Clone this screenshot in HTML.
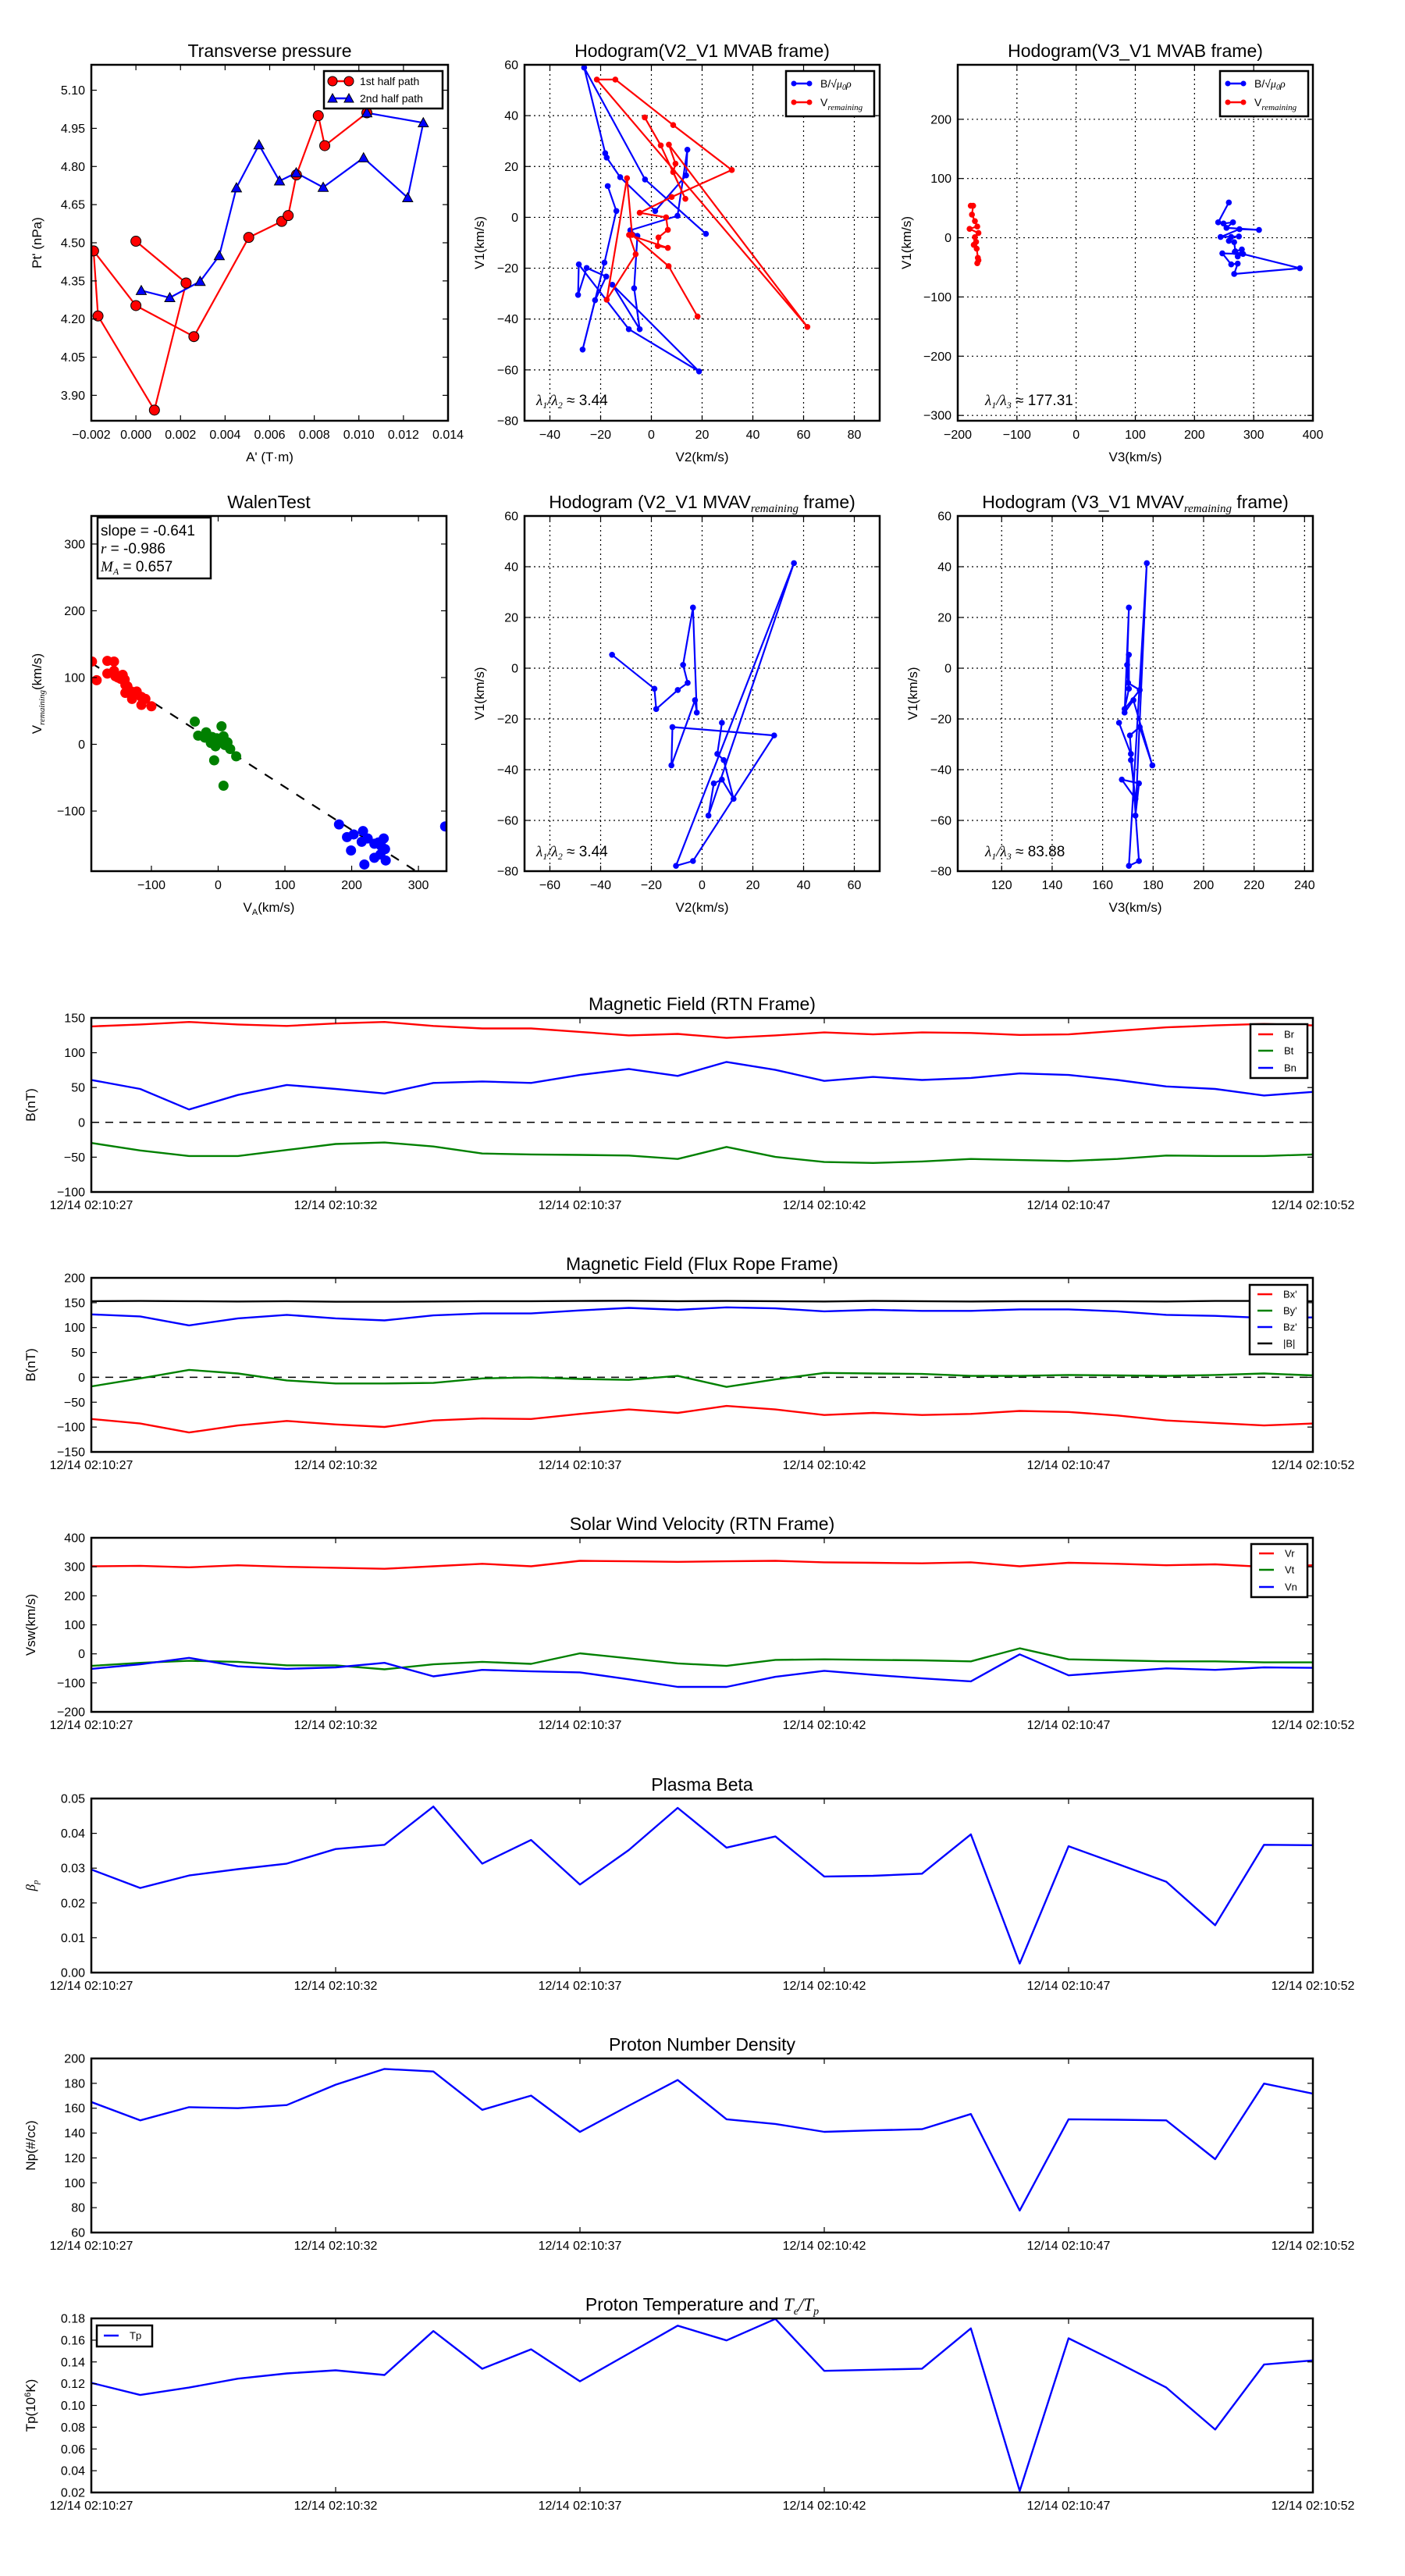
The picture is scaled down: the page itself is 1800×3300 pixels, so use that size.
<!DOCTYPE html>
<html><head><meta charset="utf-8"><title>Flux rope analysis</title>
<style>
html,body{margin:0;padding:0;background:#fff;}
svg{display:block;font-family:"Liberation Sans","DejaVu Sans",sans-serif;}
</style></head>
<body>
<svg id="chart" xmlns="http://www.w3.org/2000/svg" width="1800" height="3300" viewBox="0 0 1800 3300"></svg>
<script>
// ---------- Data ----------
// Transverse pressure
const tpRedA = [0.000,0.00225,0.00083,-0.0017,-0.0019,0.000,0.0026,0.00506,0.00654,0.00683,0.0072,0.00818,0.00847,0.01036];
const tpRedP = [4.506,4.342,3.842,4.212,4.468,4.253,4.131,4.521,4.584,4.607,4.767,5.000,4.882,5.011];
const tpBlueA = [0.01036,0.01289,0.01219,0.01021,0.0084,0.00719,0.00644,0.00552,0.00451,0.00374,0.00288,0.00152,0.00024];
const tpBlueP = [5.011,4.972,4.677,4.834,4.718,4.775,4.743,4.885,4.716,4.449,4.348,4.284,4.312];
// Hodogram V2_V1 MVAB
const h1BlueV2 = [21.5,-2.5,-26.5,-18.2,-17.6,-12.3,1.5,13.7,14.2,10.3,-8.3,-5.5,-6.8,-4.6,-15.4,18.8,-8.9,-28.6,-28.9,-25.5,-17.8,-22.2,-27.1,-18.5,-13.8,-17.2];
const h1BlueV1 = [-6.5,14.9,58.9,25.2,23.5,15.8,2.5,16.5,26.6,0.6,-5.1,-7.3,-27.9,-44.0,-26.5,-60.6,-44.0,-18.5,-30.5,-19.9,-23.3,-32.6,-52.0,-17.8,2.5,12.3];
const h1RedV2 = [18.2,6.8,-7.6,-9.6,-17.6,-6.2,-8.8,6.5,2.5,2.8,6.5,5.8,-4.6,8.0,31.7,8.6,-14.2,-21.5,61.5,6.9,9.5,8.6,13.4,3.7,-2.6];
const h1RedV1 = [-39.0,-19.2,-6.9,15.4,-32.4,-14.5,-6.9,-12.0,-11.3,-7.9,-4.9,0,1.8,8.0,18.6,36.3,54.2,54.2,-43.1,28.6,21.1,17.8,7.3,28.3,39.3];
// Hodogram V3_V1 MVAB
const h2BlueV3 = [258,240,249,265,254,309,276,244,275,262,258,267,269,280,273,282,247,262,273,267,378,268];
const h2BlueV1 = [59.5,26,24,26,16.7,13.2,14.5,1.3,2.2,1.3,-5.3,-7.5,-22.9,-19.8,-31.7,-27.3,-26.4,-45,-43.6,-61.2,-51.5,-24];
const h2RedV3 = [-178,-174,-176,-171,-167,-180,-165,-171,-173,-169,-168,-166,-165,-167];
const h2RedV1 = [54,54,39,28,19,15,8,1,-12,-7,-18.5,-34,-38,-43];
// Walen test
const walenRedX = [-189,-182,-166,-156,-166,-156,-154,-143,-140,-139,-136,-139,-130,-122,-129,-115,-109,-115,-100,-146,-150];
const walenRedY = [124,96,125,124,106,110,102,104,97,89,87,77,79,79,68,71,68,59,57,98,100];
const walenGreenX = [-35,-30,-18,-20,-9,-11,-4,5,8,14,18,27,-6,8,2,10,-2];
const walenGreenY = [34,13,18,10,11,2,-3,27,12,3,-7,-18,-24,-62,5,-1,9];
const walenBlueX = [181,193,203,217,215,224,199,234,248,244,250,234,243,219,251,340,240];
const walenBlueY = [-120,-139,-135,-130,-146,-141,-159,-149,-141,-152,-157,-170,-165,-180,-174,-123,-147];
const walenSlope = -0.641;
// Hodograms MVAV (time ordered)
const mvavV2 = [-35.5,-18.8,-18.1,-9.6,-5.7,-7.5,-3.6,-2.1,-2.8,-12.1,-11.7,28.4,-3.6,-10.3,36.2,2.5,4.6,7.8,12.4,8.5,6.0,7.8];
const mvavV1 = [5.3,-8.1,-16.1,-8.6,-5.8,1.3,23.9,-17.5,-12.6,-38.3,-23.2,-26.5,-76,-77.9,41.4,-58.1,-45.4,-43.9,-51.5,-36.2,-33.8,-21.5];
const mvavV3 = [170.4,170.4,168.7,174.7,170.1,169.7,170.4,168.7,172.2,179.7,174.7,170.8,174.4,170.4,177.5,173,174.4,167.6,173,171.2,171.2,166.5];
// Time series (seconds after 02:10:27)
const timeTickLabels = ["12/14 02:10:27","12/14 02:10:32","12/14 02:10:37","12/14 02:10:42","12/14 02:10:47","12/14 02:10:52"];
const Br = [137.8,140.6,144.2,140.6,138.5,142,144.2,138.5,134.9,134.9,129.9,124.9,127,121.3,124.9,129.2,126.3,129.2,128.4,125.6,126.3,131.4,136.4,139.2,141.4,139.2];
const Bt = [-29.6,-40.4,-48.3,-48.3,-39.7,-31,-28.9,-34.6,-44.7,-46.1,-46.8,-47.6,-52.6,-35.3,-49.7,-56.9,-58.3,-56.2,-52.6,-54.1,-55.5,-52.6,-47.6,-48.3,-48.3,-46.1];
const Bn = [60.9,48,18.5,39.4,53.7,48,41.5,56.6,58.8,56.6,68.1,76.7,66.7,86.8,75.3,59.5,65.2,60.9,63.8,70.3,68.1,60.9,51.6,48,38.6,43.7];
const Bx = [-83.7,-92.8,-110.9,-96.8,-87.7,-94.8,-99.8,-86.7,-82.7,-83.7,-73.6,-64.6,-71.6,-57.5,-64.6,-75.7,-71.6,-75.7,-73.6,-67.6,-69.6,-76.7,-86.7,-91.8,-96.8,-92.8];
const By = [-18.3,-2.2,14.9,7.8,-6.2,-12.3,-12.3,-11.3,-2.2,-0.2,-3.2,-5.2,2.8,-19.3,-4.2,8.9,7.8,6.8,2.8,2.8,4.8,3.8,2.8,4.8,7.8,3.8];
const Bz = [126.6,122.5,104.4,118.5,125.6,118.5,114.5,124.5,128.5,128.5,134.6,139.6,135.6,140.6,138.6,132.6,135.6,133.6,133.6,136.6,136.6,132.6,125.6,123.5,119.5,120.5];
const Bmag = [153,153.5,153,152.5,153,152,152,152.5,153,153,153.5,154,153,153.5,153,152.5,153.5,153,152.5,153,153,153,152.5,153.5,153.5,153];
const Vr = [301.7,303.4,298.3,305.2,300,296.6,293.1,301.7,310.3,301.7,320.7,319,317.2,319,320.7,315.5,313.8,312.1,315.5,301.7,313.8,310.3,305.2,308.6,300,305.2];
const Vt = [-41.4,-31,-24.1,-27.6,-39.7,-39.7,-53.4,-36.2,-27.6,-34.5,1.7,-15.5,-32.8,-41.4,-20.7,-19,-20.7,-22.4,-25.9,18.9,-19,-22.4,-25.9,-25.9,-29.3,-29.3];
const Vn = [-51.7,-36.2,-13.8,-43.1,-51.7,-46.6,-31,-77.6,-55.2,-60.3,-63.8,-87.9,-113.8,-113.8,-79.3,-58.6,-72.4,-84.5,-94.8,-1.7,-74.1,-62.1,-50,-55.2,-46.6,-48.3];
const betaP = [.0296,.0243,.0279,.0297,.0313,.0355,.0367,.0477,.0313,.0381,.0253,.0352,.0473,.0359,.0391,.0276,.0278,.0284,.0397,.0026,.0363,.0312,.0261,.0136,.0367,.0366];
const Np = [165,150.2,160.8,160,162.5,178.9,191.6,189.5,158.7,170.1,140.9,162,182.7,151.1,147.3,141,142.2,143.1,155.3,77.7,151.1,150.7,150.2,119,179.8,171.7];
const Tp = [.1207,.1096,.1164,.1246,.1294,.1323,.1280,.1684,.1337,.1516,.1222,.1477,.1733,.1598,.1795,.1318,.1328,.1338,.1708,.0214,.1617,.1395,.1164,.0778,.1376,.1414];

// ---------- Helpers ----------
const NS = "http://www.w3.org/2000/svg";
const svg = document.getElementById('chart');
let clipId = 0;
function mk(tag, attrs, parent) {
  const e = document.createElementNS(NS, tag);
  for (const k in attrs) e.setAttribute(k, attrs[k]);
  (parent || svg).appendChild(e);
  return e;
}
function lin(d0, d1, r0, r1) { return v => r0 + (v - d0) / (d1 - d0) * (r1 - r0); }
function fmt(v, dec) { const s = Math.abs(v).toFixed(dec); return (v < -1e-12 ? "\u2212" : "") + s; }
function range(a, b, s) { const r = []; for (let v = a; v <= b + s * 1e-6; v += s) r.push(+v.toFixed(6)); return r; }

function axes(name, box, xd, yd, xticks, yticks, xlab, ylab, opts) {
  opts = opts || {};
  const g = mk('g', {});
  
  
  const sx = lin(xd[0], xd[1], box.x0, box.x1);
  const sy = lin(yd[0], yd[1], box.y1, box.y0);
  const id = 'clip' + (clipId++);
  const cp = mk('clipPath', { id: id }, g);
  mk('rect', { x: box.x0, y: box.y0, width: box.x1 - box.x0, height: box.y1 - box.y0 }, cp);
  if (opts.grid) {
    xticks.forEach(t => { const x = sx(t); if (x > box.x0 + 1 && x < box.x1 - 1) {
      const l = mk('line', { x1: x, y1: box.y0, x2: x, y2: box.y1, stroke: '#000', 'stroke-width': 1.2, 'stroke-dasharray': '2,4' }, g);
      
       } });
    yticks.forEach(t => { const y = sy(t); if (y > box.y0 + 1 && y < box.y1 - 1) {
      const l = mk('line', { x1: box.x0, y1: y, x2: box.x1, y2: y, stroke: '#000', 'stroke-width': 1.2, 'stroke-dasharray': '2,4' }, g);
      
       } });
  }
  const plot = mk('g', { 'clip-path': 'url(#' + id + ')' }, g);
  
  
  const xtl = opts.xtl || (t => fmt(t, opts.xdec || 0));
  const ytl = opts.ytl || (t => fmt(t, opts.ydec || 0));
  xticks.forEach((t, i) => {
    const x = sx(t);
    mk('line', { x1: x, y1: box.y1, x2: x, y2: box.y1 - 7, stroke: '#000', 'stroke-width': 1.2 }, g);
    mk('line', { x1: x, y1: box.y0, x2: x, y2: box.y0 + 7, stroke: '#000', 'stroke-width': 1.2 }, g);
    const tx = mk('text', { x: x, y: box.y1 + (opts.xlabOff || 23), 'text-anchor': 'middle', 'font-size': opts.tickFs || 16 }, g);
    tx.textContent = xtl(t, i);
    
    
  });
  yticks.forEach(t => {
    const y = sy(t);
    mk('line', { x1: box.x0, y1: y, x2: box.x0 + 7, y2: y, stroke: '#000', 'stroke-width': 1.2 }, g);
    mk('line', { x1: box.x1, y1: y, x2: box.x1 - 7, y2: y, stroke: '#000', 'stroke-width': 1.2 }, g);
    const ty = mk('text', { x: box.x0 - 8, y: y + 5.5, 'text-anchor': 'end', 'font-size': opts.tickFs || 16 }, g);
    ty.textContent = ytl(t);
    
    
  });
  const fr = mk('rect', { x: box.x0, y: box.y0, width: box.x1 - box.x0, height: box.y1 - box.y0, fill: 'none', stroke: '#000', 'stroke-width': 2.5 }, g);
  
  
  if (xlab) {
    const xl = mk('text', { x: (box.x0 + box.x1) / 2, y: box.y1 + 52, 'text-anchor': 'middle', 'font-size': 17 }, g);
    xl.innerHTML = xlab;
    
    
  }
  if (ylab) {
    const yx = box.x0 - (opts.ylabDist || 64), yy = (box.y0 + box.y1) / 2;
    const yl = mk('text', { x: yx, y: yy, 'text-anchor': 'middle', 'font-size': 17, transform: 'rotate(-90 ' + yx + ' ' + yy + ')' }, g);
    yl.innerHTML = ylab;
    
    
  }
  if (opts.title) {
    const tt = mk('text', { x: (box.x0 + box.x1) / 2, y: box.y0 - 10, 'text-anchor': 'middle', 'font-size': 23 }, g);
    tt.innerHTML = opts.title;
    
    
  }
  return { g, plot, sx, sy, box };
}
function polyline(ax, xs, ys, color, w, name) {
  const pts = xs.map((x, i) => ax.sx(x).toFixed(1) + ',' + ax.sy(ys[i]).toFixed(1)).join(' ');
  const p = mk('polyline', { points: pts, fill: 'none', stroke: color, 'stroke-width': w || 2.4, 'stroke-linejoin': 'round' }, ax.plot);
  
  
  return p;
}
function dots(ax, xs, ys, color, r, name, edge) {
  xs.forEach((x, i) => {
    const c = mk('circle', { cx: ax.sx(x), cy: ax.sy(ys[i]), r: r, fill: color, stroke: edge || 'none', 'stroke-width': edge ? 1 : 0 }, ax.plot);
    
    
  });
}
function tris(ax, xs, ys, color, s, name) {
  xs.forEach((x, i) => {
    const cx = ax.sx(x), cy = ax.sy(ys[i]);
    const t = mk('polygon', { points: `${cx},${cy - s} ${cx - s},${cy + s * 0.8} ${cx + s},${cy + s * 0.8}`, fill: color, stroke: '#000', 'stroke-width': 1 }, ax.plot);
    
    
  });
}
function legendBox(x, y, w, h, name) {
  const g = mk('g', {});
  
  
  mk('rect', { x: x, y: y, width: w, height: h, fill: '#fff', stroke: '#000', 'stroke-width': 2.5 }, g);
  return g;
}
function legendLine(g, x, y, color, label, fs, len, marker) {
  const e = mk('g', {}, g);
  
  
  mk('line', { x1: x, y1: y, x2: x + len, y2: y, stroke: color, 'stroke-width': 2.4 }, e);
  if (marker === 'dot') { mk('circle', { cx: x, cy: y, r: 3.5, fill: color }, e); mk('circle', { cx: x + len, cy: y, r: 3.5, fill: color }, e); }
  if (marker === 'bigdot') { [x, x + len].forEach(cx => mk('circle', { cx: cx, cy: y, r: 6, fill: color, stroke: '#000', 'stroke-width': 1 }, e)); }
  if (marker === 'tri') { [x, x + len].forEach(cx => mk('polygon', { points: `${cx},${y - 6} ${cx - 6},${y + 5} ${cx + 6},${y + 5}`, fill: color, stroke: '#000', 'stroke-width': 1 }, e)); }
  const t = mk('text', { x: x + len + 14, y: y + fs * 0.36, 'font-size': fs }, e);
  t.innerHTML = label;
}
function note(x, y, html, fs, name) {
  const t = mk('text', { x: x, y: y, 'font-size': fs }, svg);
  t.innerHTML = html;
  
  
}

// ---------- Row 1 ----------
const R1 = { y0: 83, y1: 539 };
const R2 = { y0: 661, y1: 1116 };
const ax1 = axes('transverse-pressure-chart', { x0: 117, x1: 574, y0: R1.y0, y1: R1.y1 }, [-0.002, 0.014], [3.80, 5.20],
  range(-0.002, 0.014, 0.002), range(3.90, 5.10, 0.15), "A' (T\u00b7m)", "Pt' (nPa)",
  { xdec: 3, ydec: 2, title: 'Transverse pressure', ylabDist: 64 });
polyline(ax1, tpRedA, tpRedP, '#ff0000', 2.2, 'first-half-path-line');
polyline(ax1, tpBlueA, tpBlueP, '#0000ff', 2.2, 'second-half-path-line');
dots(ax1, tpRedA, tpRedP, '#ff0000', 6.5, 'first-half-point', '#000');
tris(ax1, tpBlueA, tpBlueP, '#0000ff', 6.5, 'second-half-point');
{ const lg = legendBox(415, 91, 152, 48, 'transverse-pressure-legend');
  legendLine(lg, 426, 104, '#ff0000', '1st half path', 14, 21, 'bigdot');
  legendLine(lg, 426, 126, '#0000ff', '2nd half path', 14, 21, 'tri'); }

const bLabel = 'B/\u221a<tspan font-style="italic" font-family="Liberation Serif">\u03bc<tspan font-size="10" dy="3">0</tspan><tspan dy="-3">\u03c1</tspan></tspan>';
const vRemLabel = 'V<tspan font-style="italic" font-family="Liberation Serif" font-size="11" dy="5">remaining</tspan>';

const ax2 = axes('hodogram-v2-v1-mvab', { x0: 672, x1: 1127, y0: R1.y0, y1: R1.y1 }, [-50, 90], [-80, 60],
  range(-40, 80, 20), range(-80, 60, 20), 'V2(km/s)', 'V1(km/s)', { grid: true, title: 'Hodogram(V2_V1 MVAB frame)', ylabDist: 52 });
polyline(ax2, h1BlueV2, h1BlueV1, '#0000ff', 2.2, 'b-alfven-hodogram-line');
dots(ax2, h1BlueV2, h1BlueV1, '#0000ff', 3.8, 'b-alfven-point');
polyline(ax2, h1RedV2, h1RedV1, '#ff0000', 2.2, 'v-remaining-hodogram-line');
dots(ax2, h1RedV2, h1RedV1, '#ff0000', 3.8, 'v-remaining-point');
{ const lg = legendBox(1007, 91, 113, 58, 'hodogram-legend');
  legendLine(lg, 1017, 107, '#0000ff', bLabel, 14, 20, 'dot');
  legendLine(lg, 1017, 131, '#ff0000', vRemLabel, 14, 20, 'dot'); }
note(687, 519, '<tspan font-style="italic" font-family="Liberation Serif">\u03bb<tspan font-size="12" dy="4">1</tspan><tspan dy="-4">/\u03bb</tspan><tspan font-size="12" dy="4">2</tspan></tspan><tspan dy="-4"> \u2248 3.44</tspan>', 19, 'eigenvalue-ratio-note');

const ax3 = axes('hodogram-v3-v1-mvab', { x0: 1227, x1: 1682, y0: R1.y0, y1: R1.y1 }, [-200, 400], [-309, 292],
  range(-200, 400, 100), range(-300, 200, 100), 'V3(km/s)', 'V1(km/s)', { grid: true, title: 'Hodogram(V3_V1 MVAB frame)', ylabDist: 60 });
polyline(ax3, h2BlueV3, h2BlueV1, '#0000ff', 2.2, 'b-alfven-hodogram-line');
dots(ax3, h2BlueV3, h2BlueV1, '#0000ff', 3.8, 'b-alfven-point');
polyline(ax3, h2RedV3, h2RedV1, '#ff0000', 2.2, 'v-remaining-hodogram-line');
dots(ax3, h2RedV3, h2RedV1, '#ff0000', 3.8, 'v-remaining-point');
{ const lg = legendBox(1563, 91, 113, 58, 'hodogram-legend');
  legendLine(lg, 1573, 107, '#0000ff', bLabel, 14, 20, 'dot');
  legendLine(lg, 1573, 131, '#ff0000', vRemLabel, 14, 20, 'dot'); }
note(1262, 519, '<tspan font-style="italic" font-family="Liberation Serif">\u03bb<tspan font-size="12" dy="4">1</tspan><tspan dy="-4">/\u03bb</tspan><tspan font-size="12" dy="4">3</tspan></tspan><tspan dy="-4"> \u2248 177.31</tspan>', 19, 'eigenvalue-ratio-note');

// ---------- Row 2 ----------
const ax4 = axes('walen-test-chart', { x0: 117, x1: 572, y0: R2.y0, y1: R2.y1 }, [-190, 342], [-190, 342],
  range(-100, 300, 100), range(-100, 300, 100),
  'V<tspan font-size="11" dy="4">A</tspan><tspan dy="-4">(km/s)</tspan>',
  'V<tspan font-style="italic" font-family="Liberation Serif" font-size="11" dy="4">remaining</tspan><tspan dy="-4">(km/s)</tspan>',
  { title: 'WalenTest', ylabDist: 64 });
{ const xs = [-190, 342]; const ys = xs.map(x => walenSlope * x);
  const l = polyline(ax4, xs, ys, '#000', 2.2, 'walen-fit-line'); l.setAttribute('stroke-dasharray', '12,12'); }
dots(ax4, walenRedX, walenRedY, '#ff0000', 6.5, 'walen-point-red');
dots(ax4, walenGreenX, walenGreenY, '#008000', 6.5, 'walen-point-green');
dots(ax4, walenBlueX, walenBlueY, '#0000ff', 6.5, 'walen-point-blue');
{ const lg = legendBox(125, 663, 145, 78, 'walen-stats-box');
  const t1 = mk('text', { x: 129, y: 686, 'font-size': 19 }, lg); t1.textContent = 'slope = -0.641';
  const t2 = mk('text', { x: 129, y: 709, 'font-size': 19 }, lg); t2.innerHTML = '<tspan font-style="italic" font-family="Liberation Serif">r</tspan> = -0.986';
  const t3 = mk('text', { x: 129, y: 732, 'font-size': 19 }, lg); t3.innerHTML = '<tspan font-style="italic" font-family="Liberation Serif">M<tspan font-size="12" dy="4">A</tspan></tspan><tspan dy="-4"> = 0.657</tspan>'; }

const remTitle = t => 'Hodogram (' + t + ' MVAV<tspan font-style="italic" font-family="Liberation Serif" font-size="15" dy="5">remaining</tspan><tspan dy="-5"> frame)</tspan>';
const ax5 = axes('hodogram-v2-v1-mvav', { x0: 672, x1: 1127, y0: R2.y0, y1: R2.y1 }, [-70, 70], [-80, 60],
  range(-60, 60, 20), range(-80, 60, 20), 'V2(km/s)', 'V1(km/s)', { grid: true, title: remTitle('V2_V1'), ylabDist: 52 });
polyline(ax5, mvavV2, mvavV1, '#0000ff', 2.2, 'b-alfven-hodogram-line');
dots(ax5, mvavV2, mvavV1, '#0000ff', 3.8, 'b-alfven-point');
note(687, 1097, '<tspan font-style="italic" font-family="Liberation Serif">\u03bb<tspan font-size="12" dy="4">1</tspan><tspan dy="-4">/\u03bb</tspan><tspan font-size="12" dy="4">2</tspan></tspan><tspan dy="-4"> \u2248 3.44</tspan>', 19, 'eigenvalue-ratio-note');

const ax6 = axes('hodogram-v3-v1-mvav', { x0: 1227, x1: 1682, y0: R2.y0, y1: R2.y1 }, [102.6, 243.3], [-80, 60],
  range(120, 240, 20), range(-80, 60, 20), 'V3(km/s)', 'V1(km/s)', { grid: true, title: remTitle('V3_V1'), ylabDist: 52 });
polyline(ax6, mvavV3, mvavV1, '#0000ff', 2.2, 'b-alfven-hodogram-line');
dots(ax6, mvavV3, mvavV1, '#0000ff', 3.8, 'b-alfven-point');
note(1262, 1097, '<tspan font-style="italic" font-family="Liberation Serif">\u03bb<tspan font-size="12" dy="4">1</tspan><tspan dy="-4">/\u03bb</tspan><tspan font-size="12" dy="4">3</tspan></tspan><tspan dy="-4"> \u2248 83.88</tspan>', 19, 'eigenvalue-ratio-note');

// ---------- Time series ----------
const tIdx = Br.map((_, i) => i);
const tsTicks = range(0, 25, 5);
function ts(name, top, yd, yticks, ydec, ylab, title) {
  return axes(name, { x0: 117, x1: 1682, y0: top, y1: top + 223 }, [0, 25], yd, tsTicks, yticks, null, ylab,
    { ydec: ydec, title: title, xtl: (t, i) => timeTickLabels[i], xlabOff: 22, ylabDist: 72 });
}
function zeroLine(ax) {
  const l = polyline(ax, [0, 25], [0, 0], '#000', 1.5, 'zero-reference-line'); l.setAttribute('stroke-dasharray', '10,8');
}
const t1 = ts('magnetic-field-rtn-chart', 1304, [-100, 150], range(-100, 150, 50), 0, 'B(nT)', 'Magnetic Field (RTN Frame)');
zeroLine(t1);
polyline(t1, tIdx, Br, '#ff0000', 2.4, 'br-line');
polyline(t1, tIdx, Bt, '#008000', 2.4, 'bt-line');
polyline(t1, tIdx, Bn, '#0000ff', 2.4, 'bn-line');
{ const lg = legendBox(1602, 1312, 73, 69, 'rtn-legend');
  legendLine(lg, 1612, 1325, '#ff0000', 'Br', 13, 19);
  legendLine(lg, 1612, 1346, '#008000', 'Bt', 13, 19);
  legendLine(lg, 1612, 1368, '#0000ff', 'Bn', 13, 19); }

const t2 = ts('magnetic-field-flux-rope-chart', 1637, [-150, 200], range(-150, 200, 50), 0, 'B(nT)', 'Magnetic Field (Flux Rope Frame)');
zeroLine(t2);
polyline(t2, tIdx, Bx, '#ff0000', 2.4, 'bx-line');
polyline(t2, tIdx, By, '#008000', 2.4, 'by-line');
polyline(t2, tIdx, Bz, '#0000ff', 2.4, 'bz-line');
polyline(t2, tIdx, Bmag, '#000000', 2.4, 'bmag-line');
{ const lg = legendBox(1601, 1646, 74, 89, 'flux-rope-legend');
  legendLine(lg, 1611, 1658, '#ff0000', "Bx'", 13, 19);
  legendLine(lg, 1611, 1679, '#008000', "By'", 13, 19);
  legendLine(lg, 1611, 1700, '#0000ff', "Bz'", 13, 19);
  legendLine(lg, 1611, 1721, '#000000', '|B|', 13, 19); }

const t3 = ts('solar-wind-velocity-chart', 1970, [-200, 400], range(-200, 400, 100), 0, 'Vsw(km/s)', 'Solar Wind Velocity (RTN Frame)');
polyline(t3, tIdx, Vr, '#ff0000', 2.4, 'vr-line');
polyline(t3, tIdx, Vt, '#008000', 2.4, 'vt-line');
polyline(t3, tIdx, Vn, '#0000ff', 2.4, 'vn-line');
{ const lg = legendBox(1603, 1978, 72, 68, 'velocity-legend');
  legendLine(lg, 1613, 1990, '#ff0000', 'Vr', 13, 19);
  legendLine(lg, 1613, 2011, '#008000', 'Vt', 13, 19);
  legendLine(lg, 1613, 2033, '#0000ff', 'Vn', 13, 19); }

const t4 = ts('plasma-beta-chart', 2304, [0, 0.05], range(0, 0.05, 0.01), 2,
  '<tspan font-style="italic" font-family="Liberation Serif">\u03b2<tspan font-size="11" dy="4">p</tspan></tspan>', 'Plasma Beta');
polyline(t4, tIdx, betaP, '#0000ff', 2.4, 'beta-line');

const t5 = ts('proton-density-chart', 2637, [60, 200], range(60, 200, 20), 0, 'Np(#/cc)', 'Proton Number Density');
polyline(t5, tIdx, Np, '#0000ff', 2.4, 'np-line');

const t6 = ts('proton-temperature-chart', 2970, [0.02, 0.18], range(0.02, 0.18, 0.02), 2,
  'Tp(10<tspan font-size="11" dy="-6">6</tspan><tspan dy="6">K)</tspan>',
  'Proton Temperature and <tspan font-style="italic" font-family="Liberation Serif">T<tspan font-size="14" dy="5">e</tspan><tspan dy="-5">/T</tspan><tspan font-size="14" dy="5">p</tspan></tspan>');
polyline(t6, tIdx, Tp, '#0000ff', 2.4, 'tp-line');
{ const lg = legendBox(124, 2979, 71, 27, 'tp-legend');
  legendLine(lg, 133, 2992, '#0000ff', 'Tp', 13, 19); }
</script>
</body></html>
